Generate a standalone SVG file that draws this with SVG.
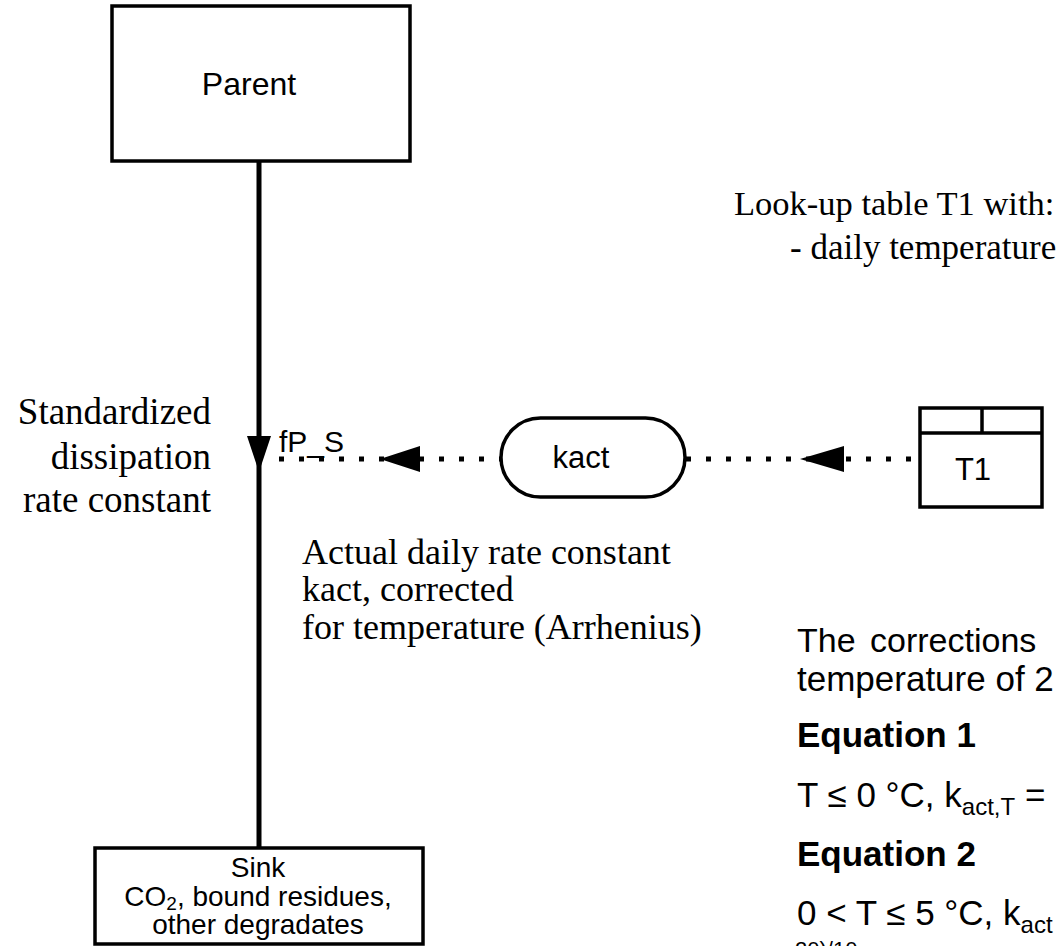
<svg xmlns="http://www.w3.org/2000/svg" width="1064" height="946" viewBox="0 0 1064 946">
<style>
.box{fill:#fff;stroke:#000;stroke-width:3.5}
.sans{font-family:"Liberation Sans",Arial,sans-serif;fill:#000}
.serif{font-family:"Liberation Serif","Times New Roman",serif;fill:#000}
.flow{stroke:#000;stroke-width:5;fill:none}
.dot{stroke:#000;stroke-width:5;fill:none;stroke-dasharray:5 15}
</style>
<rect width="1064" height="946" fill="#fff"/>
<g id="connectors">
<line class="flow" x1="259" y1="161" x2="259" y2="848"/>
<polygon points="247,436 271,436 259,472" fill="#000"/>
<line class="dot" x1="279" y1="459" x2="501" y2="459"/>
<polygon points="380,459 420,446 420,472" fill="#000"/>
<line class="dot" x1="686" y1="459" x2="920" y2="459"/>
<polygon points="800,459 844,446 844,472" fill="#000"/>
</g>
<g id="parent">
<rect class="box" x="112" y="6" width="298" height="155"/>
<text class="sans" x="249" y="95" font-size="32" text-anchor="middle">Parent</text>
</g>
<g id="sink">
<rect class="box" x="95" y="848" width="328" height="96"/>
<text class="sans" font-size="28" text-anchor="middle"><tspan x="258" y="877">Sink</tspan><tspan x="258" y="906">CO<tspan font-size="19" dy="4">2</tspan><tspan dy="-4">, bound residues,</tspan></tspan><tspan x="258" y="934">other degradates</tspan></text>
</g>
<g id="kact">
<rect class="box" x="501" y="418" width="184" height="79" rx="39.5" ry="39.5"/>
<text class="sans" x="581" y="468" font-size="31" text-anchor="middle">kact</text>
</g>
<g id="t1">
<rect class="box" x="920" y="408" width="122" height="99"/>
<line x1="920" y1="433" x2="1042" y2="433" stroke="#000" stroke-width="3.5"/>
<line x1="982" y1="408" x2="982" y2="433" stroke="#000" stroke-width="3.5"/>
<text class="sans" x="973" y="480" font-size="31" text-anchor="middle">T1</text>
</g>
<g id="labels">
<text class="sans" x="279" y="452" font-size="30">fP_S</text>
<text class="serif" font-size="37" text-anchor="end"><tspan x="211" y="424">Standardized</tspan><tspan x="211" y="469">dissipation</tspan><tspan x="211" y="512">rate constant</tspan></text>
<text class="serif" font-size="34.5" x="734" y="215">Look-up table T1 with:</text>
<text class="serif" font-size="35" x="790" y="259">- daily temperature</text>
<text class="serif" font-size="36"><tspan x="302" y="564">Actual daily rate constant</tspan><tspan x="302" y="601">kact, corrected</tspan><tspan x="302" y="639">for temperature (Arrhenius)</tspan></text>
<text class="sans" font-size="34" x="797" y="652" word-spacing="5">The corrections</text>
<text class="sans" font-size="35" x="797" y="691">temperature of 2</text>
<text class="sans" font-size="35" x="797" y="747" font-weight="bold">Equation 1</text>
<text class="sans" font-size="35" x="797" y="807">T ≤ 0 °C, k<tspan font-size="24" dy="8">act,T</tspan><tspan dy="-8"> =</tspan></text>
<text class="sans" font-size="35" x="797" y="866" font-weight="bold">Equation 2</text>
<text class="sans" font-size="35" x="797" y="925">0 &lt; T ≤ 5 °C, k<tspan font-size="24" dy="8">act</tspan></text>
<text class="sans" font-size="22" x="795" y="957">20)/10</text>
</g>
</svg>
